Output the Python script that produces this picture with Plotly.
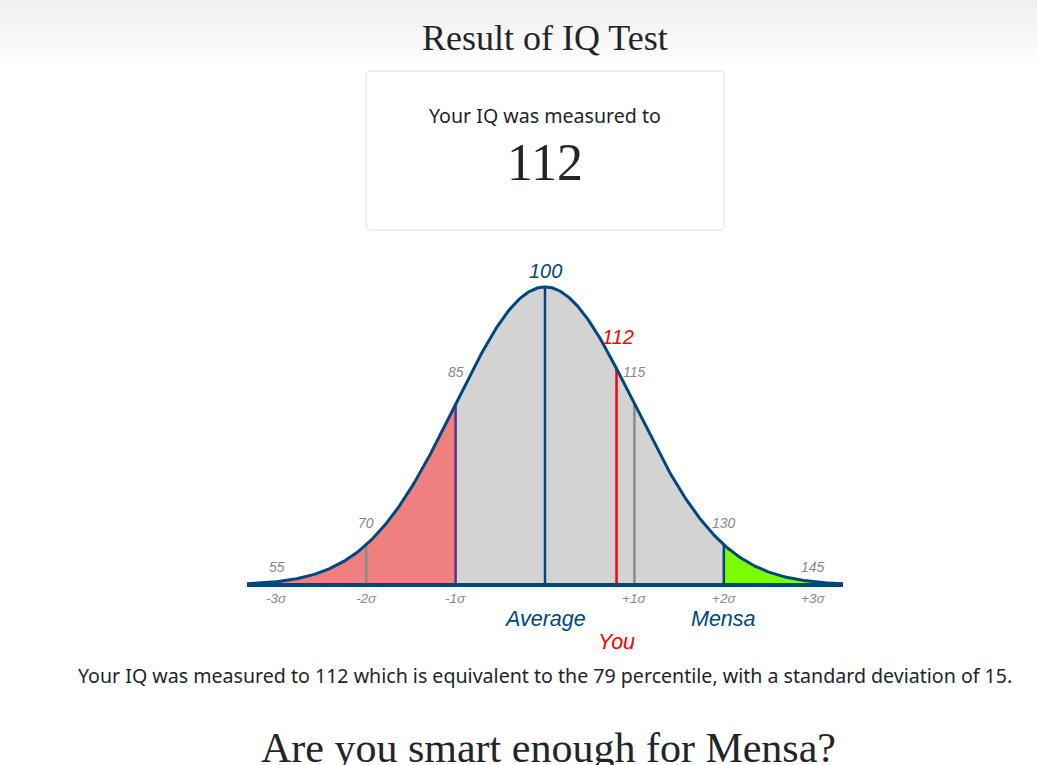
import numpy as np
import plotly.graph_objects as go

W, H = 1037, 765

# ---- data ----
mean_iq = 100
sd_iq = 15
score = 112
percentile = 79
curve_range = [50, 150]
marker_values = [55, 70, 85, 100, 115, 130, 145]
sigma_values = [55, 70, 85, 115, 130, 145]
sigma_labels = ["-3σ", "-2σ", "-1σ", "+1σ", "+2σ", "+3σ"]
region_bounds = [50, 85, 130, 150]          # red | gray | green
region_colors = ["#F08080", "#D3D3D3", "#7CFC00"]
vline_values = [70, 85, 100, 112, 115, 130]
vline_colors = ["#8a8a8a", "#553388", "#00467f", "#ff0000", "#8a8a8a", "#00467f"]

BLUE = "#00467f"
GRAY = "#888888"
TEXT = "#212529"


def pdf(x):
    x = np.asarray(x, dtype=float)
    return np.exp(-0.5 * ((x - mean_iq) / sd_iq) ** 2)


def px_x(p):
    return p / W


def px_y(p):
    return 1 - p / H


fig = go.Figure()

# fill regions
for (a, b), col in zip(zip(region_bounds[:-1], region_bounds[1:]), region_colors):
    xs = np.linspace(a, b, 200)
    ys = pdf(xs)
    fig.add_trace(go.Scatter(
        x=np.concatenate([[a], xs, [b]]), y=np.concatenate([[0], ys, [0]]),
        fill="toself", fillcolor=col, mode="none", hoverinfo="skip", showlegend=False))

# vertical lines
for v, c in zip(vline_values, vline_colors):
    fig.add_trace(go.Scatter(x=[v, v], y=[0, float(pdf(v))], mode="lines",
                             line=dict(color=c, width=2.5), hoverinfo="skip", showlegend=False))

# curve
xs = np.linspace(curve_range[0], curve_range[1], 400)
fig.add_trace(go.Scatter(x=xs, y=pdf(xs), mode="lines", line=dict(color=BLUE, width=3),
                         hoverinfo="skip", showlegend=False))
# baseline
fig.add_trace(go.Scatter(x=curve_range, y=[0, 0], mode="lines", line=dict(color=BLUE, width=4),
                         hoverinfo="skip", showlegend=False))

ann = []
# value labels above the curve
shifts = {55: 15, 70: 22, 85: 32, 100: 16, 115: 32, 130: 22, 145: 15}
for v in marker_values:
    if v == mean_iq:
        ann.append(dict(x=v, y=float(pdf(v)), text="<i>%d</i>" % v, showarrow=False,
                        yshift=shifts[v], font=dict(family="Liberation Sans", size=20, color=BLUE)))
    else:
        ann.append(dict(x=v, y=float(pdf(v)), text="<i>%d</i>" % v, showarrow=False,
                        yshift=shifts[v], font=dict(family="Liberation Sans", size=14, color=GRAY)))
ann.append(dict(x=score + 0.3, y=float(pdf(score)), text="<i>%d</i>" % score, showarrow=False,
                yshift=32, font=dict(family="Liberation Sans", size=20, color="#ff0000")))
# sigma labels
for v, t in zip(sigma_values, sigma_labels):
    ann.append(dict(x=v, y=0, text="<i>%s</i>" % t, showarrow=False, yshift=-13,
                    font=dict(family="Liberation Sans", size=13.5, color=GRAY)))
ann.append(dict(x=mean_iq, y=0, text="<i>Average</i>", showarrow=False, yshift=-34,
                font=dict(family="Liberation Sans", size=21.5, color=BLUE)))
ann.append(dict(x=130, y=0, text="<i>Mensa</i>", showarrow=False, yshift=-34,
                font=dict(family="Liberation Sans", size=21.5, color=BLUE)))
ann.append(dict(x=score, y=0, text="<i>You</i>", showarrow=False, yshift=-57,
                font=dict(family="Liberation Sans", size=21.5, color="#ff0000")))

# page texts
ann.append(dict(xref="paper", yref="paper", x=px_x(545), y=px_y(38), text="Result of IQ Test",
                showarrow=False, xanchor="center", yanchor="middle",
                font=dict(family="Liberation Serif", size=36, color=TEXT)))
ann.append(dict(xref="paper", yref="paper", x=px_x(545), y=px_y(115), text="Your IQ was measured to",
                showarrow=False, xanchor="center", yanchor="middle",
                font=dict(family="Noto Sans", size=19.6, color=TEXT)))
ann.append(dict(xref="paper", yref="paper", x=px_x(545), y=px_y(162), text=str(score),
                showarrow=False, xanchor="center", yanchor="middle",
                font=dict(family="Liberation Serif", size=52, color=TEXT)))
ann.append(dict(xref="paper", yref="paper", x=px_x(545), y=px_y(675),
                text="Your IQ was measured to %d which is equivalent to the %d percentile, with a standard deviation of %d." % (score, percentile, sd_iq),
                showarrow=False, xanchor="center", yanchor="middle",
                font=dict(family="Noto Sans", size=19.6, color=TEXT)))
ann.append(dict(xref="paper", yref="paper", x=px_x(548), y=px_y(748), text="Are you smart enough for Mensa?",
                showarrow=False, xanchor="center", yanchor="middle",
                font=dict(family="Liberation Serif", size=42, color=TEXT)))

shapes = []
# top gradient
n = 14
for i in range(n):
    g = int(0xF0 + (0xFF - 0xF0) * i / (n - 1))
    shapes.append(dict(type="rect", xref="paper", yref="paper", x0=0, x1=1,
                       y0=px_y(5 * (i + 1)), y1=px_y(5 * i), line=dict(width=0),
                       fillcolor="#%02x%02x%02x" % (g, g, g), layer="below"))
# rounded box
x0, x1, y0, y1, r = 366, 724, 71, 230, 5
path = ("M {a},{b} L {c},{b} Q {d},{b} {d},{e} L {d},{f} Q {d},{g} {c},{g} "
        "L {a},{g} Q {h},{g} {h},{f} L {h},{e} Q {h},{b} {a},{b} Z").format(
    a=px_x(x0 + r), b=px_y(y0), c=px_x(x1 - r), d=px_x(x1), e=px_y(y0 + r),
    f=px_y(y1 - r), g=px_y(y1), h=px_x(x0))
shapes.append(dict(type="path", xref="paper", yref="paper", path=path,
                   line=dict(color="#dedede", width=1), fillcolor="rgba(0,0,0,0)"))

# axes: x 49..151 mapped to px 241.04..848.96 ; y -0.03..1.05 mapped to px 593.94..272.1
ppu_x = 596 / 100
xr = [49, 151]
xd = [(247 - ppu_x) / W, (843 + ppu_x) / W]
yr = [-0.03, 1.05]
yd = [1 - (585 + 0.03 * 298) / H, 1 - (585 - 1.05 * 298) / H]

fig.update_layout(
    width=W, height=H, margin=dict(l=0, r=0, t=0, b=0),
    paper_bgcolor="white", plot_bgcolor="rgba(0,0,0,0)",
    xaxis=dict(range=xr, domain=xd, visible=False, fixedrange=True),
    yaxis=dict(range=yr, domain=yd, visible=False, fixedrange=True),
    annotations=ann, shapes=shapes, showlegend=False,
)

fig.write_html("out.html", config={"displayModeBar": False},
               post_script="document.body.style.margin='0px';document.body.style.overflow='hidden';")
